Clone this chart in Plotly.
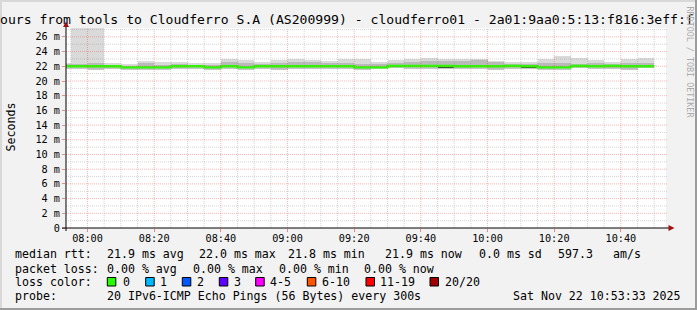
import plotly.graph_objects as go
import pandas as pd

# ---------------- data ----------------
DAY = "2025-11-22 "
bin_starts = ["07:50", "07:55", "08:00", "08:05", "08:10", "08:15", "08:20", "08:25", "08:30",
              "08:35", "08:40", "08:45", "08:50", "08:55", "09:00", "09:05", "09:10", "09:15",
              "09:20", "09:25", "09:30", "09:35", "09:40", "09:45", "09:50", "09:55", "10:00",
              "10:05", "10:10", "10:15", "10:20", "10:25", "10:30", "10:35", "10:40", "10:45"]
bin_end = "10:50"

median = [22.0, 22.0, 22.0, 22.0, 21.85, 21.85, 21.85, 22.0, 22.0, 21.85, 22.0, 21.85,
          22.0, 22.0, 22.0, 22.0, 22.0, 22.0, 21.85, 21.85, 22.05, 22.05, 22.05, 22.05,
          22.0, 22.0, 22.0, 22.05, 22.0, 21.85, 21.85, 22.05, 22.0, 22.05, 22.0, 22.0]
smoke_lo = [21.7, 21.7, 21.55, 21.64, 21.55, 21.55, 21.55, 21.68, 21.7, 21.55, 21.75, 21.6,
            21.68, 21.55, 21.68, 21.73, 21.73, 21.7, 21.55, 21.64, 21.77, 21.73, 21.7, 21.68,
            21.64, 21.73, 21.55, 21.68, 21.7, 21.55, 21.6, 21.77, 21.7, 21.68, 21.55, 21.77]
smoke_mlo = [21.9, 21.9, 21.65, 21.8, 21.7, 21.7, 21.75, 21.8, 21.85, 21.7, 21.9, 21.75,
             21.85, 21.65, 21.85, 21.85, 21.85, 21.85, 21.7, 21.75, 21.9, 21.9, 21.9, 21.85,
             21.8, 21.85, 21.7, 21.85, 21.8, 21.7, 21.75, 21.9, 21.85, 21.75, 21.65, 21.9]
smoke_mhi = [22.3, 22.3, 22.5, 22.2, 22.1, 22.4, 22.15, 22.35, 22.2, 22.2, 22.6, 22.5,
             22.3, 22.4, 22.55, 22.55, 22.4, 22.4, 22.3, 22.3, 22.45, 22.55, 22.7, 22.7,
             22.7, 22.8, 22.55, 22.3, 22.3, 22.4, 22.4, 22.3, 22.45, 22.3, 22.45, 22.45]
smoke_hi = [22.4, 27.6, 27.6, 22.45, 22.3, 22.68, 22.55, 22.55, 22.45, 22.45, 23.0, 22.9,
            22.6, 22.8, 23.0, 22.9, 22.68, 23.0, 23.0, 22.55, 22.82, 23.0, 23.14, 23.0,
            23.0, 23.0, 22.68, 22.55, 22.55, 23.0, 23.45, 23.14, 22.9, 22.55, 23.0, 23.14]
dense_lo = [None] * 23 + [21.9] + [None] * 4 + [21.8] + [None] * 7
dense_hi = [None] * 23 + [21.98] + [None] * 4 + [21.88] + [None] * 7

x_tick_times = ["08:00", "08:20", "08:40", "09:00", "09:20", "09:40", "10:00", "10:20", "10:40"]
y_tick_vals = [0, 2, 4, 6, 8, 10, 12, 14, 16, 18, 20, 22, 24, 26]
y_tick_text = ["0", "2 m", "4 m", "6 m", "8 m", "10 m", "12 m", "14 m", "16 m", "18 m",
               "20 m", "22 m", "24 m", "26 m"]

title_text = "ours from tools to Cloudferro S.A (AS200999) - cloudferro01 - 2a01:9aa0:5:13:f816:3eff:f"
rtt_label = "median rtt:"
rtt_stats = ["21.9 ms avg", "22.0 ms max", "21.8 ms min", "21.9 ms now", "0.0 ms sd", "597.3", "am/s"]
loss_label = "packet loss:"
loss_stats = ["0.00 % avg", "0.00 % max", "0.00 % min", "0.00 % now"]
color_label = "loss color:"
loss_names = ["0", "1", "2", "3", "4-5", "6-10", "11-19", "20/20"]
loss_colors = ["#26ff00", "#00b8ff", "#0059ff", "#5e00ff", "#ff00ff", "#ff5500", "#ff0000", "#a00000"]
probe_label = "probe:"
probe_text = "20 IPv6-ICMP Echo Pings (56 Bytes) every 300s"
date_text = "Sat Nov 22 10:53:33 2025"
watermark = "RRDTOOL / TOBI OETIKER"
y_title = "Seconds"

# ---------------- geometry helpers (pixels -> paper) ----------------
W, H = 697, 310
L, R, T, B = 66, 31, 28, 82
PW, PH = W - L - R, H - T - B


def px(x):
    return (x - L) / PW


def py(y):
    return (H - B - y) / PH


FONT = "DejaVu Sans Mono"
starts = pd.to_datetime([DAY + s for s in bin_starts])
BIN_MS = 300000

fig = go.Figure()


def band(lo, hi, color):
    h = [(b - a) if (a is not None and b is not None) else None for a, b in zip(lo, hi)]
    fig.add_trace(go.Bar(x=starts, y=h, base=list(lo), width=BIN_MS, offset=0,
                         marker=dict(color=color, line=dict(width=0)),
                         hoverinfo="skip", showlegend=False))


band(smoke_lo, smoke_hi, "#dadada")
band(smoke_lo, smoke_mlo, "#c6c6c6")
band(smoke_mlo, smoke_mhi, "#bababa")
band(dense_lo, dense_hi, "#333333")

mx = list(starts) + [pd.Timestamp(DAY + bin_end)]
my = median + [median[-1]]
fig.add_trace(go.Scatter(x=mx, y=my, mode="lines", line=dict(color=loss_colors[0], width=2.4, shape="hv"),
                         hoverinfo="skip", showlegend=False))

shapes = []
# grid (drawn above the data, like rrdtool)
grid_minor = "rgba(150,150,150,0.4)"
grid_major = "rgba(230,70,70,0.38)"
t = pd.Timestamp(DAY + "07:55")
major_set = set(pd.to_datetime([DAY + s for s in x_tick_times]))
while t <= pd.Timestamp(DAY + "10:50"):
    col = grid_major if t in major_set else grid_minor
    shapes.append(dict(type="line", xref="x", yref="paper", x0=t, x1=t, y0=0, y1=1,
                       line=dict(color=col, width=1, dash="1px,1px"), layer="above"))
    t += pd.Timedelta(minutes=5)
for v in range(1, 28):
    col = grid_major if v % 2 == 0 else grid_minor
    shapes.append(dict(type="line", xref="paper", yref="y", x0=0, x1=px(668), y0=v, y1=v,
                       line=dict(color=col, width=1, dash="1px,1px"), layer="above"))

# axes lines + arrows
shapes.append(dict(type="line", xref="paper", yref="paper", x0=px(62), x1=px(670), y0=0, y1=0,
                   line=dict(color="#000000", width=1), layer="above"))
shapes.append(dict(type="line", xref="paper", yref="paper", x0=0, x1=0, y0=py(231), y1=py(25),
                   line=dict(color="#000000", width=1), layer="above"))
shapes.append(dict(type="path", xref="paper", yref="paper",
                   path=f"M {px(668.5)} {py(225)} L {px(674.5)} {py(228)} L {px(668.5)} {py(231)} Z",
                   fillcolor="#a01010", line=dict(width=0), layer="above"))
shapes.append(dict(type="path", xref="paper", yref="paper",
                   path=f"M {px(63)} {py(27)} L {px(66)} {py(21.5)} L {px(69)} {py(27)} Z",
                   fillcolor="#a01010", line=dict(width=0), layer="above"))

# frame shading
shapes += [
    dict(type="rect", xref="paper", yref="paper", x0=px(0), x1=px(697), y0=py(0), y1=py(2),
         fillcolor="#d8d8d8", line=dict(width=0), layer="below"),
    dict(type="rect", xref="paper", yref="paper", x0=px(0), x1=px(2), y0=py(0), y1=py(310),
         fillcolor="#d8d8d8", line=dict(width=0), layer="below"),
    dict(type="rect", xref="paper", yref="paper", x0=px(695), x1=px(697), y0=py(0), y1=py(310),
         fillcolor="#9c9c9c", line=dict(width=0), layer="below"),
    dict(type="rect", xref="paper", yref="paper", x0=px(0), x1=px(697), y0=py(308), y1=py(310),
         fillcolor="#9c9c9c", line=dict(width=0), layer="below"),
]

annotations = []


def text(x, y, s, size=11.6, color="#000000", anchor="left", angle=0):
    annotations.append(dict(xref="paper", yref="paper", x=px(x), y=py(y), text=s, showarrow=False,
                            xanchor=anchor, yanchor="middle", textangle=angle,
                            font=dict(family=FONT, size=size, color=color),
                            borderpad=0, borderwidth=0))


text(0, 19.2, title_text, size=13.1)
text(10.5, 127, y_title, size=11.6, anchor="center", angle=-90)
text(689.5, 62, watermark, size=8.4, color="#ababab", anchor="center", angle=90)

row1 = 254.1
row2 = 268.5
row3 = 281.8
row4 = 295.8
text(15.3, row1, rtt_label)
for xx, s in zip([106.5, 198.5, 287.5, 385.2, 478.5, 557.5, 613.2], rtt_stats):
    text(xx, row1, s)
text(15.3, row2, loss_label)
for xx, s in zip([106.5, 193.2, 278.5, 364.2], loss_stats):
    text(xx, row2, s)
text(15.3, row3, color_label)
box_x = [107.3, 145.7, 182.3, 219.3, 255.7, 307.3, 366, 430]
lab_x = [122.5, 160.2, 196.9, 234.2, 270.2, 321.9, 379.9, 444.5]
for bx, lx, name, col in zip(box_x, lab_x, loss_names, loss_colors):
    shapes.append(dict(type="rect", xref="paper", yref="paper", x0=px(bx), x1=px(bx + 8.5),
                       y0=py(286), y1=py(277.5), fillcolor=col,
                       line=dict(color="#000000", width=1), layer="above"))
    text(lx, row3, name)
text(15.3, row4, probe_label)
text(106.5, row4, probe_text)
text(512.5, row4, date_text)

fig.update_layout(
    width=W, height=H,
    margin=dict(l=L, r=R, t=T, b=B, pad=0),
    paper_bgcolor="#f2f2f2", plot_bgcolor="#ffffff",
    barmode="overlay", bargap=0, showlegend=False,
    shapes=shapes, annotations=annotations,
    font=dict(family=FONT, color="#000000"),
    xaxis=dict(type="date", range=[DAY + "07:53:33", DAY + "10:53:33"],
               tickvals=[DAY + s for s in x_tick_times], ticktext=x_tick_times,
               ticks="outside", ticklen=3, tickcolor="rgba(230,70,70,0.6)", tickwidth=1,
               ticklabelstandoff=-2,
               showgrid=False, zeroline=False, showline=False,
               tickfont=dict(family=FONT, size=10.2, color="#000000")),
    yaxis=dict(range=[0, 27.21], tickvals=y_tick_vals, ticktext=y_tick_text,
               ticks="outside", ticklen=3, tickcolor="rgba(230,70,70,0.6)", tickwidth=1,
               showgrid=False, zeroline=False, showline=False,
               tickfont=dict(family=FONT, size=10.2, color="#000000")),
)

fig.write_html("out.html", config={"displayModeBar": False})
